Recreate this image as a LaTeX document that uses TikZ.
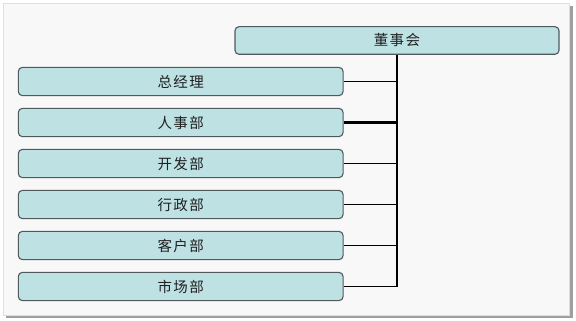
\documentclass[tikz,border=0pt]{standalone}
\usepackage{fontspec}
\newfontfamily\cjk[LetterSpace=10]{Noto Sans CJK SC}
\definecolor{boxfill}{HTML}{BEE1E4}
\definecolor{boxline}{HTML}{505A5C}
\definecolor{bgfill}{HTML}{F8F8F8}
\definecolor{txt}{HTML}{202020}
\tikzset{
  orgbox/.style={draw=boxline, line width=1.1pt, fill=boxfill, rounded corners=4pt,
    inner sep=0pt, font=\cjk\fontsize{14.5}{16}\selectfont, text=txt},
  link/.style={line width=1.9pt, black}
}
\begin{document}
\begin{tikzpicture}[x=1pt,y=-1pt]
\useasboundingbox (0,0) rectangle (576,321);
\fill[white] (0,0) rectangle (576,321);
\fill[gray!75] (6,6) rectangle (572.5,318);
\fill[bgfill, draw=gray!25, line width=0.6pt] (3,3) rectangle (569.5,315.5);
\node[orgbox, minimum width=324pt, minimum height=27.6pt] (top) at (397,40.5) {董事会};
\foreach \n/\t/\y in {a/总经理/81.5, b/人事部/122.5, c/开发部/163.5, d/行政部/204.5, e/客户部/245.5, f/市场部/286.5}{
  \node[orgbox, minimum width=324.7pt, minimum height=28.2pt] (\n) at (180.7,\y) {\t};
  \coordinate (j\n) at (top.south |- \n.east);
}
\draw[link] (top.south) -- (jf);
\foreach \n in {a,c,d,e,f}{\draw[link] (\n.east) -- (j\n);}
\draw[link, line width=2.6pt] (b.east) -- (jb);
\end{tikzpicture}
\end{document}
